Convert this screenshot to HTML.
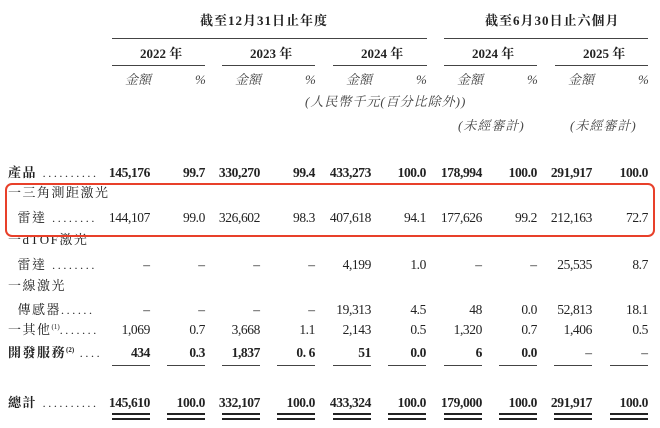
<!DOCTYPE html><html><head><meta charset="utf-8"><style>
body{margin:0;width:660px;height:428px;background:#fff;position:relative;overflow:hidden;font-family:"Liberation Serif","Noto Serif CJK SC",serif;color:#222}
div{position:absolute;white-space:nowrap;line-height:16px;font-size:13.5px}
.b{font-weight:bold}
.i{font-style:italic;color:#444;font-size:13px}
.l{left:8px;font-size:13px;letter-spacing:1.5px;font-family:"Liberation Serif","Noto Serif CJK TC",serif}
.d{font-size:12px;letter-spacing:2.6px;font-weight:normal}
.s{font-size:7px;vertical-align:5px;letter-spacing:0;line-height:0}
.ln{height:1px;background:#444}
.dl{height:2px;background:#222}
.n{letter-spacing:-0.4px}
</style></head><body>
<div class="b" style="left:200px;top:13px;font-size:13px;letter-spacing:1px">截至12月31日止年度</div>
<div class="b" style="left:485px;top:13px;font-size:13px;letter-spacing:1px">截至6月30日止六個月</div>
<div class="ln" style="left:112px;top:38px;width:315px"></div>
<div class="ln" style="left:444px;top:38px;width:204px"></div>
<div class="b" style="left:140px;top:46px;font-size:13px">2022 年</div>
<div class="b" style="left:250px;top:46px;font-size:13px">2023 年</div>
<div class="b" style="left:361px;top:46px;font-size:13px">2024 年</div>
<div class="b" style="left:472px;top:46px;font-size:13px">2024 年</div>
<div class="b" style="left:583px;top:46px;font-size:13px">2025 年</div>
<div class="ln" style="left:112px;top:65px;width:93px"></div>
<div class="ln" style="left:222px;top:65px;width:93px"></div>
<div class="ln" style="left:333px;top:65px;width:94px"></div>
<div class="ln" style="left:444px;top:65px;width:93px"></div>
<div class="ln" style="left:555px;top:65px;width:93px"></div>
<div class="i" style="left:125px;top:72px">金額</div><div class="i" style="left:195px;top:72px">%</div>
<div class="i" style="left:235px;top:72px">金額</div><div class="i" style="left:305px;top:72px">%</div>
<div class="i" style="left:346px;top:72px">金額</div><div class="i" style="left:416px;top:72px">%</div>
<div class="i" style="left:457px;top:72px">金額</div><div class="i" style="left:527px;top:72px">%</div>
<div class="i" style="left:568px;top:72px">金額</div><div class="i" style="left:638px;top:72px">%</div>
<div class="i" style="left:305px;top:94px;letter-spacing:1px">(人民幣千元(百分比除外))</div>
<div class="i" style="left:458px;top:118px;letter-spacing:1px">(未經審計)</div>
<div class="i" style="left:570px;top:118px;letter-spacing:1px">(未經審計)</div>

<div class="l b" style="top:165px">產品<span class="d"> ..........</span></div>
<div class="l" style="top:185px">一三角測距激光</div>
<div class="l" style="top:210px">&nbsp;&nbsp;雷達<span class="d"> ........</span></div>
<div class="l" style="top:232px">一dTOF激光</div>
<div class="l" style="top:257px">&nbsp;&nbsp;雷達<span class="d"> ........</span></div>
<div class="l" style="top:278px">一線激光</div>
<div class="l" style="top:302px">&nbsp;&nbsp;傳感器<span class="d">......</span></div>
<div class="l" style="top:322px">一其他<span class="s">(1)</span><span class="d">.......</span></div>
<div class="l b" style="top:345px">開發服務<span class="s">(2)</span><span class="d"> ....</span></div>
<div class="l b" style="top:395px">總計<span class="d"> ..........</span></div>

<div class="b n" style="right:510px;top:165px">145,176</div><div class="b n" style="right:455px;top:165px">99.7</div>
<div class="b n" style="right:400px;top:165px">330,270</div><div class="b n" style="right:345px;top:165px">99.4</div>
<div class="b n" style="right:289px;top:165px">433,273</div><div class="b n" style="right:234px;top:165px">100.0</div>
<div class="b n" style="right:178px;top:165px">178,994</div><div class="b n" style="right:123px;top:165px">100.0</div>
<div class="b n" style="right:68px;top:165px">291,917</div><div class="b n" style="right:12px;top:165px">100.0</div>
<div class="n" style="right:510px;top:210px">144,107</div><div class="n" style="right:455px;top:210px">99.0</div>
<div class="n" style="right:400px;top:210px">326,602</div><div class="n" style="right:345px;top:210px">98.3</div>
<div class="n" style="right:289px;top:210px">407,618</div><div class="n" style="right:234px;top:210px">94.1</div>
<div class="n" style="right:178px;top:210px">177,626</div><div class="n" style="right:123px;top:210px">99.2</div>
<div class="n" style="right:68px;top:210px">212,163</div><div class="n" style="right:12px;top:210px">72.7</div>
<div style="right:510px;top:257px">–</div><div style="right:455px;top:257px">–</div>
<div style="right:400px;top:257px">–</div><div style="right:345px;top:257px">–</div>
<div class="n" style="right:289px;top:257px">4,199</div><div class="n" style="right:234px;top:257px">1.0</div>
<div style="right:178px;top:257px">–</div><div style="right:123px;top:257px">–</div>
<div class="n" style="right:68px;top:257px">25,535</div><div class="n" style="right:12px;top:257px">8.7</div>
<div style="right:510px;top:302px">–</div><div style="right:455px;top:302px">–</div>
<div style="right:400px;top:302px">–</div><div style="right:345px;top:302px">–</div>
<div class="n" style="right:289px;top:302px">19,313</div><div class="n" style="right:234px;top:302px">4.5</div>
<div class="n" style="right:178px;top:302px">48</div><div class="n" style="right:123px;top:302px">0.0</div>
<div class="n" style="right:68px;top:302px">52,813</div><div class="n" style="right:12px;top:302px">18.1</div>
<div class="n" style="right:510px;top:322px">1,069</div><div class="n" style="right:455px;top:322px">0.7</div>
<div class="n" style="right:400px;top:322px">3,668</div><div class="n" style="right:345px;top:322px">1.1</div>
<div class="n" style="right:289px;top:322px">2,143</div><div class="n" style="right:234px;top:322px">0.5</div>
<div class="n" style="right:178px;top:322px">1,320</div><div class="n" style="right:123px;top:322px">0.7</div>
<div class="n" style="right:68px;top:322px">1,406</div><div class="n" style="right:12px;top:322px">0.5</div>
<div class="b n" style="right:510px;top:345px">434</div><div class="b n" style="right:455px;top:345px">0.3</div>
<div class="b n" style="right:400px;top:345px">1,837</div><div class="b n" style="right:345px;top:345px">0. 6</div>
<div class="b n" style="right:289px;top:345px">51</div><div class="b n" style="right:234px;top:345px">0.0</div>
<div class="b n" style="right:178px;top:345px">6</div><div class="b n" style="right:123px;top:345px">0.0</div>
<div style="right:68px;top:345px">–</div><div style="right:12px;top:345px">–</div>
<div class="b n" style="right:510px;top:395px">145,610</div><div class="b n" style="right:455px;top:395px">100.0</div>
<div class="b n" style="right:400px;top:395px">332,107</div><div class="b n" style="right:345px;top:395px">100.0</div>
<div class="b n" style="right:289px;top:395px">433,324</div><div class="b n" style="right:234px;top:395px">100.0</div>
<div class="b n" style="right:178px;top:395px">179,000</div><div class="b n" style="right:123px;top:395px">100.0</div>
<div class="b n" style="right:68px;top:395px">291,917</div><div class="b n" style="right:12px;top:395px">100.0</div>

<div class="ln" style="left:112px;top:365px;width:38px"></div><div class="ln" style="left:167px;top:365px;width:38px"></div>
<div class="ln" style="left:222px;top:365px;width:38px"></div><div class="ln" style="left:277px;top:365px;width:38px"></div>
<div class="ln" style="left:333px;top:365px;width:38px"></div><div class="ln" style="left:388px;top:365px;width:38px"></div>
<div class="ln" style="left:444px;top:365px;width:38px"></div><div class="ln" style="left:499px;top:365px;width:38px"></div>
<div class="ln" style="left:554px;top:365px;width:38px"></div><div class="ln" style="left:610px;top:365px;width:38px"></div>

<div class="dl" style="left:112px;top:413px;width:38px"></div><div class="dl" style="left:167px;top:413px;width:38px"></div>
<div class="dl" style="left:222px;top:413px;width:38px"></div><div class="dl" style="left:277px;top:413px;width:38px"></div>
<div class="dl" style="left:333px;top:413px;width:38px"></div><div class="dl" style="left:388px;top:413px;width:38px"></div>
<div class="dl" style="left:444px;top:413px;width:38px"></div><div class="dl" style="left:499px;top:413px;width:38px"></div>
<div class="dl" style="left:554px;top:413px;width:38px"></div><div class="dl" style="left:610px;top:413px;width:38px"></div>
<div class="dl" style="left:112px;top:418px;width:38px"></div><div class="dl" style="left:167px;top:418px;width:38px"></div>
<div class="dl" style="left:222px;top:418px;width:38px"></div><div class="dl" style="left:277px;top:418px;width:38px"></div>
<div class="dl" style="left:333px;top:418px;width:38px"></div><div class="dl" style="left:388px;top:418px;width:38px"></div>
<div class="dl" style="left:444px;top:418px;width:38px"></div><div class="dl" style="left:499px;top:418px;width:38px"></div>
<div class="dl" style="left:554px;top:418px;width:38px"></div><div class="dl" style="left:610px;top:418px;width:38px"></div>

<div style="left:5px;top:183px;width:646px;height:50px;border:2.5px solid #e8402a;border-radius:7px"></div>
</body></html>
